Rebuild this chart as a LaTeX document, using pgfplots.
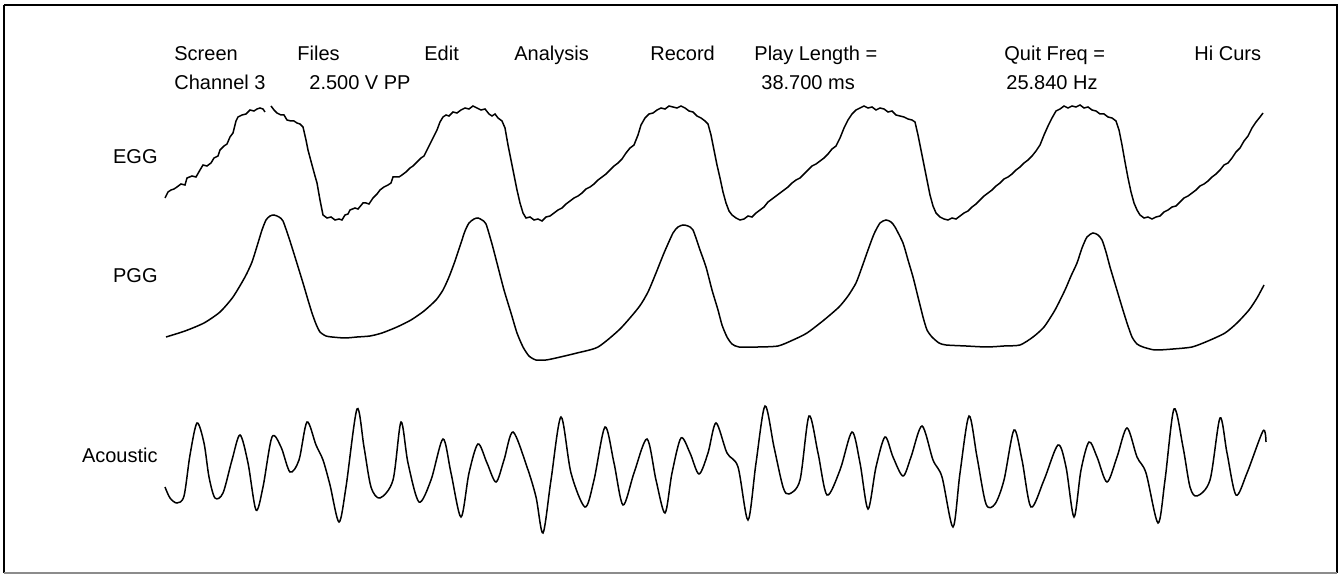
\documentclass[border=0pt]{standalone}
\usepackage{pgfplots}
\pgfplotsset{compat=1.18}
\usepackage{fontspec}
\setmainfont{Liberation Sans}
\begin{document}
\begin{tikzpicture}
\begin{axis}[
  scale only axis, width=671.5pt, height=288pt,
  xmin=0, xmax=1343, ymin=0, ymax=576, y dir=reverse,
  hide axis, clip=false,
  nodes={font=\fontsize{10}{12}\selectfont, inner sep=0pt}
]
\path (axis cs:0,0) rectangle (axis cs:1343,576);
% frame
\draw[line width=1.1pt] (axis cs:4,5) -- (axis cs:1337,5) -- (axis cs:1337,573);
\draw[line width=1.1pt] (axis cs:4,5) -- (axis cs:4,573);
\draw[line width=1pt, black!45] (axis cs:4,573) -- (axis cs:1337,573);
% menu text
\node[anchor=base west] at (axis cs:174,61) {Screen};
\node[anchor=base west] at (axis cs:297,61) {Files};
\node[anchor=base west] at (axis cs:424,61) {Edit};
\node[anchor=base west] at (axis cs:514,61) {Analysis};
\node[anchor=base west] at (axis cs:650,61) {Record};
\node[anchor=base west] at (axis cs:754,61) {Play Length =};
\node[anchor=base west] at (axis cs:1004,61) {Quit Freq =};
\node[anchor=base west] at (axis cs:1194,61) {Hi Curs};
\node[anchor=base west] at (axis cs:174,90) {Channel 3};
\node[anchor=base west] at (axis cs:309,90) {2.500 V PP};
\node[anchor=base west] at (axis cs:761,90) {38.700 ms};
\node[anchor=base west] at (axis cs:1006,90) {25.840 Hz};
\node[anchor=base east] at (axis cs:158,164) {EGG};
\node[anchor=base east] at (axis cs:158,283) {PGG};
\node[anchor=base east] at (axis cs:158,463) {Acoustic};
% EGG (first segment, up to the small break at the first peak)
\addplot[black, line width=0.75pt, no markers] coordinates {
(165,198)(168,192)(171,190)(174,189)(177,187)(181,184)(185,185)(187,178)(192,176)(196,177)(200,170)(203,165)(207,166)(211,163)(214,158)(218,156)(220,150)(224,146)(227,144)(230,137)(233,133)(236,121)(238,117)(242,115)(246,114)(250,110)(254,111)(257,109)(260,108)(263,109)(265,112)
};
% EGG (rest)
\addplot[black, line width=0.75pt, no markers] coordinates {
(271,106)(274,110)(277,113)(281,115)(284,115)(287,120)(291,121)(294,121)(297,123)(300,124)(303,127)(306,140)(308,150)(312,165)(315,176)(317,183)(320,200)(323,215)(327,218)(331,217)(335,220)(339,219)(342,220)(345,215)(348,214)(350,210)(355,208)(358,209)(363,203)(366,203)(369,204)(373,198)(377,194)(380,190)(384,187)(388,185)(391,183)(393,177)(399,177)(402,175)(406,172)(410,168)(413,166)(417,162)(421,158)(424,156)(427,150)(432,140)(437,130)(440,122)(443,117)(446,115)(449,116)(453,112)(457,113)(461,110)(465,108)(469,109)(473,106)(477,108)(481,110)(485,109)(489,114)(492,116)(495,114)(498,118)(502,121)(505,128)(508,145)(511,160)(514,175)(517,190)(520,203)(523,213)(526,218)(530,217)(534,220)(538,219)(542,221)(546,217)(550,216)(554,213)(558,210)(562,208)(566,204)(570,201)(574,198)(578,196)(582,193)(586,189)(590,187)(594,184)(598,180)(602,177)(606,174)(610,170)(614,166)(618,163)(622,159)(626,153)(630,148)(634,145)(638,135)(641,125)(645,118)(649,114)(653,113)(657,110)(661,108)(665,109)(669,106)(673,107)(677,108)(681,106)(685,108)(689,111)(693,112)(697,116)(701,118)(705,121)(708,124)(711,135)(714,150)(717,165)(720,178)(723,192)(726,203)(729,211)(732,215)(736,218)(740,220)(744,219)(748,216)(752,217)(756,213)(760,210)(764,207)(768,202)(772,199)(776,196)(780,193)(784,190)(788,187)(792,183)(796,180)(800,178)(804,174)(808,170)(812,166)(816,164)(820,161)(824,158)(828,154)(832,149)(836,146)(840,138)(844,128)(848,120)(852,114)(856,110)(860,108)(864,106)(868,108)(872,107)(876,110)(880,108)(884,109)(888,112)(892,111)(896,115)(900,116)(904,117)(908,119)(912,120)(915,122)(918,135)(921,150)(924,165)(927,180)(930,195)(933,206)(936,213)(940,217)(944,219)(948,220)(952,218)(956,219)(960,216)(964,213)(968,211)(972,207)(976,204)(980,200)(984,196)(988,193)(992,190)(996,186)(1000,183)(1004,179)(1008,177)(1012,174)(1016,170)(1020,167)(1024,163)(1028,160)(1032,156)(1036,151)(1040,145)(1044,135)(1048,126)(1052,118)(1056,111)(1060,109)(1064,106)(1068,108)(1072,106)(1076,107)(1080,105)(1084,108)(1088,107)(1092,110)(1096,111)(1100,114)(1104,114)(1108,117)(1112,118)(1116,121)(1119,130)(1122,145)(1125,162)(1128,178)(1131,192)(1134,203)(1137,210)(1140,215)(1144,218)(1148,217)(1152,219)(1156,217)(1160,216)(1164,212)(1168,210)(1172,207)(1176,206)(1180,202)(1184,198)(1188,196)(1192,193)(1196,190)(1200,186)(1204,184)(1208,181)(1212,177)(1216,174)(1220,170)(1224,165)(1228,163)(1232,158)(1236,152)(1240,148)(1244,141)(1248,136)(1252,128)(1256,122)(1260,117)(1263,113)
};
% PGG
\addplot[black, line width=0.75pt, no markers, smooth, tension=0.4] coordinates {
(166,337)(185,331)(204,323)(220,312)(233,297)(245,277)(252,262)(258,243)(262,230)(266,220)(270,216)(274,215)(279,217)(283,221)(289,238)(295,257)(303,283)(308,300)(312,313)(316,324)(320,332)(326,336)(332,337)(345,338)(357,337)(370,336)(382,333)(397,327)(411,320)(424,311)(436,300)(443,290)(449,277)(455,261)(461,243)(465,231)(469,223)(474,219)(478,218)(482,220)(486,224)(492,244)(498,267)(504,290)(511,313)(517,333)(523,347)(529,356)(536,360)(546,360)(556,358)(577,353)(598,347)(620,329)(639,307)(648,292)(656,273)(664,253)(673,233)(678,227)(683,225)(688,226)(693,230)(700,250)(706,267)(712,290)(718,310)(722,325)(727,337)(732,344)(739,347)(758,347)(778,346)(793,340)(807,333)(824,320)(839,307)(848,296)(856,283)(862,267)(868,250)(874,234)(880,223)(886,220)(891,222)(895,227)(903,243)(908,260)(913,277)(918,297)(923,317)(927,330)(932,337)(939,343)(946,345)(966,346)(987,347)(1004,346)(1020,345)(1033,337)(1044,327)(1055,310)(1065,290)(1071,276)(1077,263)(1082,248)(1087,237)(1093,233)(1098,235)(1102,240)(1106,252)(1110,267)(1116,287)(1122,307)(1127,323)(1132,337)(1137,344)(1143,347)(1155,350)(1173,349)(1192,347)(1208,341)(1225,333)(1237,323)(1249,310)(1257,298)(1264,285)
};
% Acoustic
\addplot[black, line width=0.75pt, no markers, smooth, tension=0.5] coordinates {
(165,487)(170,498)(177,503)(184,496)(190,455)(197,423)(204,443)(209,477)(215,498)(223,493)(232,460)(240,435)(248,463)(256,510)(263,487)(272,437)(281,447)(290,472)(299,460)(307,422)(316,445)(323,460)(330,485)(339,522)(346,487)(357,409)(364,447)(371,487)(380,498)(393,480)(401,422)(408,463)(419,502)(431,480)(443,439)(451,473)(461,517)(469,473)(478,444)(487,463)(496,482)(504,460)(513,432)(527,467)(536,497)(543,533)(551,480)(561,417)(571,473)(585,507)(594,480)(605,427)(614,463)(623,505)(634,473)(647,439)(656,480)(665,513)(672,473)(681,438)(690,453)(699,474)(708,453)(716,423)(727,453)(738,467)(748,520)(756,463)(765,406)(774,447)(783,487)(789,494)(800,480)(809,416)(818,453)(827,495)(840,470)(852,432)(860,463)(868,509)(876,467)(885,437)(893,457)(903,476)(911,457)(922,426)(933,460)(942,477)(953,527)(960,473)(969,416)(977,457)(986,504)(995,504)(1004,480)(1014,430)(1022,460)(1031,507)(1044,480)(1058,445)(1066,467)(1074,517)(1081,470)(1089,442)(1097,457)(1107,482)(1117,457)(1127,428)(1137,457)(1146,473)(1158,523)(1165,480)(1174,409)(1183,447)(1190,487)(1197,496)(1210,480)(1220,418)(1227,453)(1236,495)(1247,473)(1263,431)(1266,442)
};
\end{axis}
\end{tikzpicture}
\end{document}
